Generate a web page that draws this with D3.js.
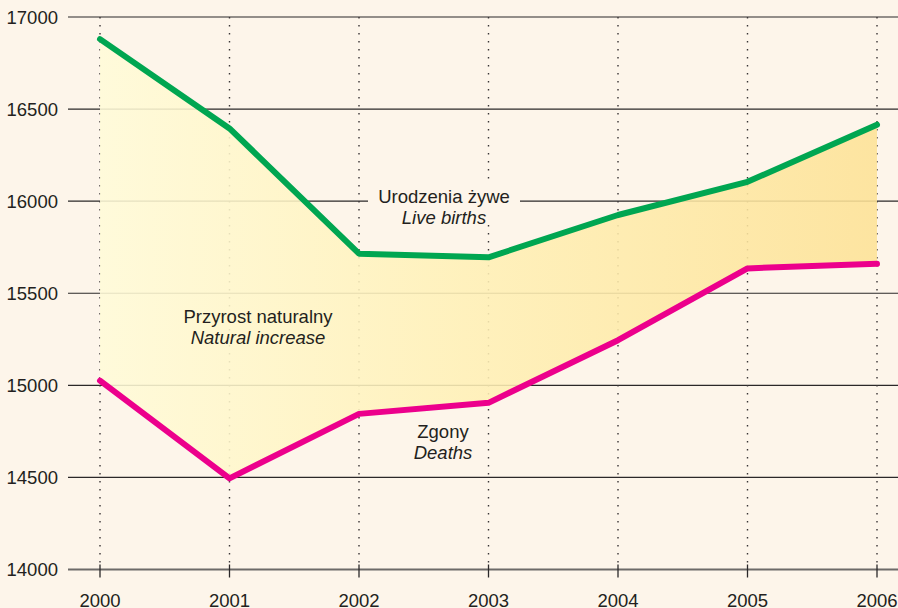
<!DOCTYPE html>
<html>
<head>
<meta charset="utf-8">
<script src="https://cdn.jsdelivr.net/npm/d3@7"></script>
<style>
body { margin: 0; background: #fdf5ea; }
svg { display: block; font-family: "Liberation Sans", Arial, sans-serif; }
</style>
</head>
<body>
<svg id="chart" width="898" height="608"></svg>
<script>
const years = [2000, 2001, 2002, 2003, 2004, 2005, 2006];
const births = [16880, 16395, 15715, 15695, 15925, 16105, 16415];
const deaths = [15025, 14495, 14845, 14905, 15245, 15635, 15660];
const y_ticks = [14000, 14500, 15000, 15500, 16000, 16500, 17000];

const svg = d3.select("#chart");
const x = d3.scaleLinear().domain([2000, 2006]).range([100, 877]);
const y = d3.scaleLinear().domain([14000, 17000]).range([569.5, 17]);

// gradient for natural increase
const grad = svg.append("defs").append("linearGradient")
	.attr("id", "fillgrad").attr("x1", "0").attr("x2", "1").attr("y1", "0").attr("y2", "0");
grad.append("stop").attr("offset", "0").attr("stop-color", "#fffbd8");
grad.append("stop").attr("offset", "0.45").attr("stop-color", "#fff1b8");
grad.append("stop").attr("offset", "1").attr("stop-color", "#fde296");

// horizontal grid
svg.append("g").selectAll("line").data(y_ticks).enter()
	.append("line")
	.attr("x1", 68).attr("x2", 898)
	.attr("y1", d => y(d)).attr("y2", d => y(d))
	.style("stroke", d => d == 14000 ? "#6d6a68" : "#2b2829")
	.style("stroke-width", d => d == 14000 ? 1.8 : 1.2);

// vertical dotted lines
svg.append("g").selectAll("line").data(years).enter()
	.append("line")
	.attr("x1", d => x(d)).attr("x2", d => x(d))
	.attr("y1", y(17000)).attr("y2", y(14000) - 4)
	.style("stroke", "#3a3637").style("stroke-width", 1.4)
	.style("stroke-dasharray", "1.6,6.4");

// x tick marks
svg.append("g").selectAll("line").data(years).enter()
	.append("line")
	.attr("x1", d => x(d)).attr("x2", d => x(d))
	.attr("y1", y(14000) - 5).attr("y2", y(14000) + 8)
	.style("stroke", "#2b2829").style("stroke-width", 1.3);

// area between lines
const area = d3.area()
	.x((d, i) => x(years[i]))
	.y0((d, i) => y(deaths[i]))
	.y1((d, i) => y(births[i]));
svg.append("path").datum(births)
	.attr("d", area)
	.style("fill", "url(#fillgrad)").style("fill-opacity", 0.88);

// knockout box behind the births label
svg.append("rect").attr("x", 368).attr("y", 185).attr("width", 152).attr("height", 40).style("fill", "#fdf5ea");

const line = vals => d3.line().x((d, i) => x(years[i])).y(d => y(d))(vals);
svg.append("path").attr("d", line(births))
	.style("fill", "none").style("stroke", "#00a651").style("stroke-width", 6).style("stroke-linejoin", "round").style("stroke-linecap", "round");
svg.append("path").attr("d", line(deaths))
	.style("fill", "none").style("stroke", "#ec008c").style("stroke-width", 6).style("stroke-linejoin", "round").style("stroke-linecap", "round");

// axis labels
svg.append("g").selectAll("text").data(y_ticks).enter()
	.append("text")
	.attr("x", 58).attr("y", d => y(d) + 6.5)
	.attr("text-anchor", "end")
	.style("font-size", "18.5px").style("fill", "#231f20")
	.text(d => d);
svg.append("g").selectAll("text").data(years).enter()
	.append("text")
	.attr("x", d => x(d)).attr("y", 607)
	.attr("text-anchor", "middle")
	.style("font-size", "18.5px").style("fill", "#231f20")
	.text(d => d);

// annotations
const labels = [
	{ pl: "Urodzenia żywe", en: "Live births", cx: 444, cy: 203 },
	{ pl: "Przyrost naturalny", en: "Natural increase", cx: 258, cy: 323 },
	{ pl: "Zgony", en: "Deaths", cx: 443, cy: 438 }
];
labels.forEach(l => {
	svg.append("text").attr("x", l.cx).attr("y", l.cy).attr("text-anchor", "middle")
		.style("font-size", "18.5px").style("fill", "#231f20").text(l.pl);
	svg.append("text").attr("x", l.cx).attr("y", l.cy + 20.5).attr("text-anchor", "middle")
		.style("font-size", "18.5px").style("font-style", "italic").style("fill", "#231f20").text(l.en);
});
</script>
</body>
</html>
